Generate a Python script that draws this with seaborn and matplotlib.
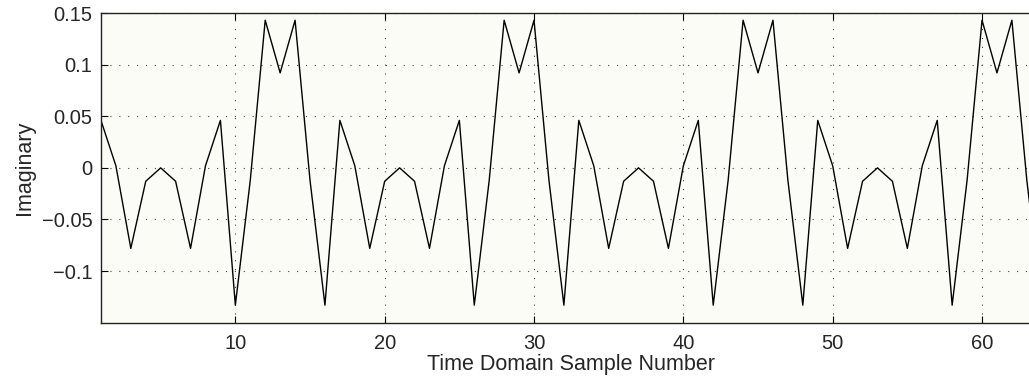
import numpy as np
import pandas as pd
import seaborn as sns
import matplotlib.pyplot as plt

# sample index and imaginary part
sample_number = list(range(1, 65))
imaginary = [
    0.046, 0.002, -0.078, -0.013, 0.000, -0.013, -0.078, 0.002,
    0.046, -0.133, -0.012, 0.143, 0.092, 0.143, -0.012, -0.133,
    0.046, 0.002, -0.078, -0.013, 0.000, -0.013, -0.078, 0.002,
    0.046, -0.133, -0.012, 0.143, 0.092, 0.143, -0.012, -0.133,
    0.046, 0.002, -0.078, -0.013, 0.000, -0.013, -0.078, 0.002,
    0.046, -0.133, -0.012, 0.143, 0.092, 0.143, -0.012, -0.133,
    0.046, 0.002, -0.078, -0.013, 0.000, -0.013, -0.078, 0.002,
    0.046, -0.133, -0.012, 0.143, 0.092, 0.143, -0.012, -0.133,
]

x_ticks = [10, 20, 30, 40, 50, 60]
y_ticks = [-0.1, -0.05, 0, 0.05, 0.1, 0.15]
y_tick_labels = ['\u22120.1', '\u22120.05', '0', '0.05', '0.1', '0.15']

df = pd.DataFrame({'Sample': sample_number, 'Imaginary': imaginary})

sns.set_style('ticks')
plt.rcParams['font.family'] = ['Liberation Sans', 'DejaVu Sans']

fig = plt.figure(figsize=(10.29, 3.78), dpi=100)
# axes run a bit past the right edge, like the cropped original
ax = fig.add_axes([0.0981, 0.1463, 0.9143, 0.8193])
ax.set_facecolor('#fcfcf7')

sns.lineplot(data=df, x='Sample', y='Imaginary', color='black', linewidth=1.0, ax=ax)

ax.set_xlim(1, 64)
ax.set_ylim(-0.15, 0.15)
ax.set_xticks(x_ticks)
ax.set_yticks(y_ticks)
ax.set_yticklabels(y_tick_labels)
ax.tick_params(direction='in', length=5, width=0.8, labelsize=14.5, top=True, right=True, color='black')
ax.tick_params(axis='x', pad=8)
ax.tick_params(axis='y', pad=6)
ax.grid(True, linestyle=(0, (1, 7)), color='#444444', linewidth=0.8)

for s in ax.spines.values():
    s.set_color('#222222')
    s.set_linewidth(1.0)

ax.set_xlabel('Time Domain Sample Number', fontsize=15.5, labelpad=1)
ax.set_ylabel('Imaginary', fontsize=15.5, labelpad=5)

fig.savefig('out.png', dpi=100)
plt.close(fig)
